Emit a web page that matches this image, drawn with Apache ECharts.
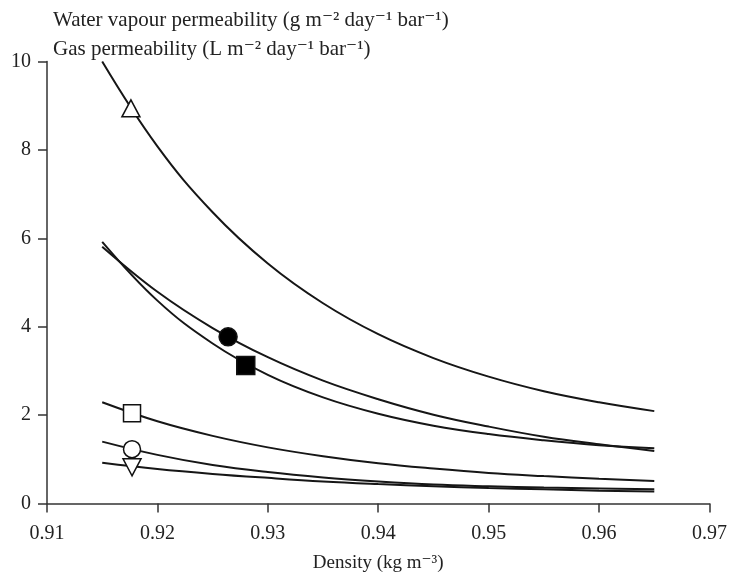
<!DOCTYPE html>
<html>
<head>
<meta charset="utf-8">
<script src="https://cdn.jsdelivr.net/npm/echarts@6/dist/echarts.min.js"></script>
<style>html,body{margin:0;padding:0;background:#fff;}#chart{width:730px;height:581px;}</style>
</head>
<body>
<div id="chart"></div>
<script>
// Data
const density = [0.915, 0.92, 0.925, 0.93, 0.935, 0.94, 0.945, 0.95, 0.955, 0.96, 0.965];
const curveTriangleUp = [10.0, 8.08, 6.59, 5.43, 4.53, 3.83, 3.29, 2.87, 2.54, 2.29, 2.09];
const curveFilledCircle = [5.81, 4.79, 3.97, 3.31, 2.78, 2.36, 2.01, 1.74, 1.51, 1.34, 1.19];
const curveFilledSquare = [5.92, 4.59, 3.62, 2.91, 2.40, 2.03, 1.76, 1.57, 1.43, 1.32, 1.25];
const curveOpenSquare = [2.29, 1.86, 1.53, 1.27, 1.07, 0.91, 0.79, 0.69, 0.62, 0.56, 0.51];
const curveOpenCircle = [1.40, 1.10, 0.87, 0.71, 0.59, 0.50, 0.43, 0.39, 0.36, 0.34, 0.32];
const curveTriangleDown = [0.92, 0.78, 0.67, 0.58, 0.50, 0.44, 0.39, 0.35, 0.32, 0.29, 0.27];

const markerNames = ['triangleUp', 'filledCircle', 'filledSquare', 'openSquare', 'openCircle', 'triangleDown'];
const markerX = [0.9176, 0.9264, 0.9280, 0.9177, 0.9177, 0.9177];
const markerY = [8.94, 3.77, 3.12, 2.04, 1.23, 0.82];

const xTicks = ['0.91', '0.92', '0.93', '0.94', '0.95', '0.96', '0.97'];
const yTicks = ['0', '2', '4', '6', '8', '10'];

const titleLines = [
  'Water vapour permeability (g m\u207B\u00B2 day\u207B\u00B9 bar\u207B\u00B9)',
  'Gas permeability (L m\u207B\u00B2 day\u207B\u00B9 bar\u207B\u00B9)'
];
const xName = 'Density (kg m\u207B\u00B3)';

const FONT = "'Liberation Serif', 'DejaVu Serif', serif";
const INK = '#161616';

function pairs(ys) { return density.map((x, i) => [x, ys[i]]); }

const curves = [curveTriangleUp, curveFilledCircle, curveFilledSquare, curveOpenSquare, curveOpenCircle, curveTriangleDown];
const markerStyle = {
  triangleUp: { symbol: 'triangle', size: [18, 17], fill: '#fff', rotate: 0 },
  filledCircle: { symbol: 'circle', size: 18, fill: '#000', rotate: 0 },
  filledSquare: { symbol: 'rect', size: 18, fill: '#000', rotate: 0 },
  openSquare: { symbol: 'rect', size: 17, fill: '#fff', rotate: 0 },
  openCircle: { symbol: 'circle', size: 17, fill: '#fff', rotate: 0 },
  triangleDown: { symbol: 'triangle', size: [18, 17], fill: '#fff', rotate: 180 }
};

const series = [];
curves.forEach((c, i) => {
  series.push({
    type: 'line', data: pairs(c), smooth: 0.4, showSymbol: false, symbol: 'none',
    lineStyle: { color: INK, width: 2 }, z: 2, silent: true
  });
});
markerNames.forEach((n, i) => {
  const s = markerStyle[n];
  series.push({
    type: 'scatter', data: [[markerX[i], markerY[i]]], symbol: s.symbol, symbolSize: s.size,
    symbolRotate: s.rotate,
    itemStyle: { color: s.fill, borderColor: '#111', borderWidth: 1.5, opacity: 1 }, z: 5, silent: true
  });
});

const chart = echarts.init(document.getElementById('chart'), null, { renderer: 'canvas' });
chart.setOption({
  animation: false,
  backgroundColor: '#fff',
  title: {
    text: titleLines.join('\n'), left: 48, top: 1,
    textStyle: { fontFamily: FONT, fontSize: 21, fontWeight: 'normal', color: '#222', lineHeight: 29 }
  },
  grid: { left: 47, right: 20, top: 61.5, bottom: 77.5, containLabel: false },
  xAxis: {
    type: 'value', min: 0.91, max: 0.97, interval: 0.01,
    name: xName, nameLocation: 'middle', nameGap: 50,
    nameTextStyle: { fontFamily: FONT, fontSize: 19, color: '#222' },
    axisLine: { lineStyle: { color: '#333', width: 1.5 } },
    axisTick: { inside: false, length: 9, lineStyle: { color: '#333', width: 1.5 } },
    axisLabel: { fontFamily: FONT, fontSize: 20, color: '#222', margin: 20,
      formatter: v => xTicks[Math.round((v - 0.91) / 0.01)] },
    splitLine: { show: false }
  },
  yAxis: {
    type: 'value', min: 0, max: 10, interval: 2,
    axisLine: { show: true, lineStyle: { color: '#333', width: 1.5 } },
    axisTick: { show: true, inside: false, length: 9, lineStyle: { color: '#333', width: 1.5 } },
    axisLabel: { fontFamily: FONT, fontSize: 20, color: '#222', margin: 16,
      formatter: v => yTicks[Math.round(v / 2)] },
    splitLine: { show: false }
  },
  series: series
});
</script>
</body>
</html>
